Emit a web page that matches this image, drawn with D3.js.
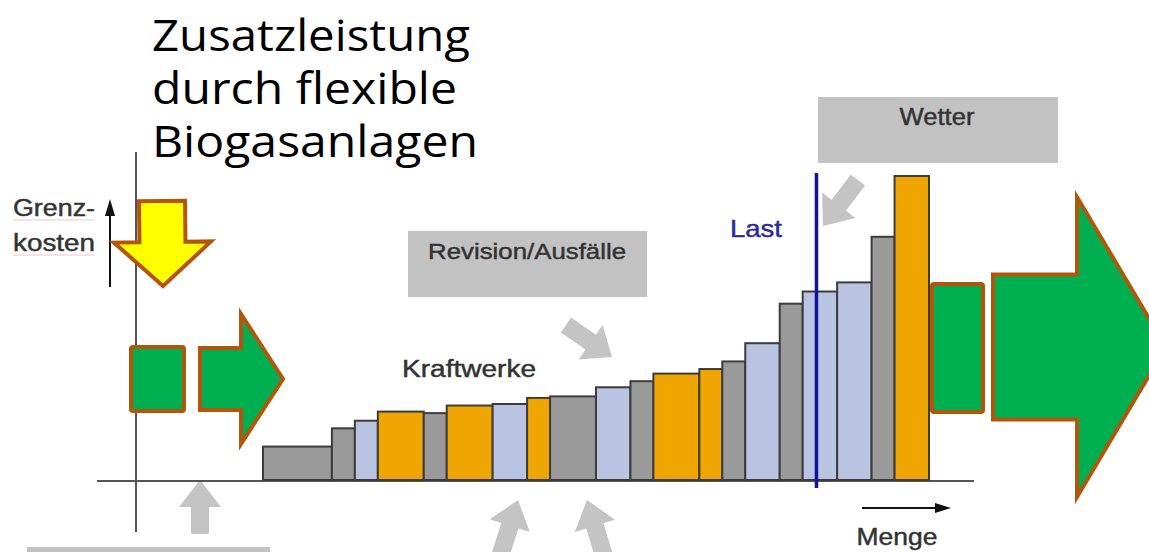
<!DOCTYPE html>
<html lang="de">
<head>
<meta charset="utf-8">
<title>Merit-Order mit flexiblen Biogasanlagen</title>
<script src="https://cdn.jsdelivr.net/npm/d3@7"></script>
<style>
  html, body { margin: 0; padding: 0; background: #fff; }
  svg { display: block; }
</style>
</head>
<body>
<svg id="chart" width="1149" height="552"></svg>
<script>
// Kraftwerkspark in Merit-Order-Reihenfolge: Leistung (Breite) und Grenzkosten (Höhe)
const plantTypes = ["grau", "grau", "blau", "orange", "grau", "orange", "blau", "orange", "grau", "blau",
                    "grau", "orange", "orange", "grau", "blau", "grau", "blau", "blau", "grau", "orange"];
const capacities = [6, 2, 2, 4, 2, 4, 3, 2, 4, 3, 2, 4, 2, 2, 3, 2, 3, 3, 2, 3];
const marginalCosts = [11, 17, 19.5, 22.5, 22, 24.5, 25, 27, 27.5, 30.5, 32.5, 35, 36.5, 39, 45, 58, 62, 65, 80, 100];
const loadLevel = [48.2];
const titleLines = ["Zusatzleistung", "durch flexible", "Biogasanlagen"];
const titleWidths = [318, 305, 326];
const labels = {
  yAxis: ["Grenz-", "kosten"],
  xAxis: "Menge",
  plants: "Kraftwerke",
  load: "Last",
  outages: "Revision/Ausfälle",
  weather: "Wetter"
};

const typeColor = { grau: "#9a9a9a", blau: "#b9c4e3", orange: "#f0a602" };

const svg = d3.select("#chart");

// Skalen: Leistung -> x, Grenzkosten -> y
const x = d3.scaleLinear().domain([0, d3.sum(capacities)]).range([263, 929]);
const y = d3.scaleLinear().domain([0, 100]).range([480, 176]);

// kumulierte Startpunkte der Blöcke
const starts = d3.cumsum([0, ...capacities.slice(0, -1)]);
const plants = capacities.map((c, i) => ({ type: plantTypes[i], x0: starts[i], x1: starts[i] + c, cost: marginalCosts[i] }));

// Pfeil als Polygon von Schaftende (x0,y0) zur Spitze (x1,y1)
function arrowPoints(x0, y0, x1, y1, sw, hw, hl) {
  const dx = x1 - x0, dy = y1 - y0, L = Math.hypot(dx, dy);
  const ux = dx / L, uy = dy / L, px = -uy, py = ux;
  const bx = x1 - ux * hl, by = y1 - uy * hl;
  return [
    [x0 + px * sw, y0 + py * sw], [bx + px * sw, by + py * sw], [bx + px * hw, by + py * hw],
    [x1, y1],
    [bx - px * hw, by - py * hw], [bx - px * sw, by - py * sw], [x0 - px * sw, y0 - py * sw]
  ];
}
const line = d3.line();
function arrow(g, pts, fill, stroke, sw) {
  return g.append("path").attr("d", line(pts) + "Z")
    .attr("fill", fill).attr("stroke", stroke || "none").attr("stroke-width", sw || 0)
    .attr("stroke-linejoin", "miter");
}

// Textfeld mit fester Breite (gestreckte Schrift)
function label(g, txt, xPos, yPos, size, width, color, anchor) {
  const c = color || "#333";
  const t = g.append("text").attr("x", xPos).attr("y", yPos)
    .attr("font-family", "Liberation Sans, Arial, sans-serif").attr("font-size", size)
    .attr("fill", c).attr("stroke", c).attr("stroke-width", 0.45).text(txt);
  if (anchor) t.attr("text-anchor", anchor);
  if (width) t.attr("textLength", width).attr("lengthAdjust", "spacingAndGlyphs");
  return t;
}

const deco = svg.append("g");

// Graue Einflusskästen
deco.append("rect").attr("x", 408).attr("y", 231).attr("width", 239).attr("height", 66).attr("fill", "#c2c2c2");
deco.append("rect").attr("x", 818).attr("y", 97).attr("width", 240).attr("height", 66).attr("fill", "#c2c2c2");
deco.append("rect").attr("x", 27).attr("y", 547).attr("width", 243).attr("height", 10).attr("fill", "#c2c2c2");
label(deco, labels.outages, 527, 259, 22, 198, "#333", "middle");
label(deco, labels.weather, 937, 125, 23, 75, "#333", "middle");

// Graue Einflusspfeile
const grayArrow = "#c4c4c4";
arrow(deco, arrowPoints(566, 325, 612, 357, 9, 21, 26), grayArrow);
arrow(deco, arrowPoints(858, 180, 823, 226, 9, 21, 26), grayArrow);
arrow(deco, arrowPoints(200, 534, 200, 480, 9, 21, 27), grayArrow);
arrow(deco, arrowPoints(497, 566, 518, 500, 9, 21, 27), grayArrow);
arrow(deco, arrowPoints(607, 566, 587, 500, 9, 21, 27), grayArrow);

// Achsen
deco.append("line").attr("x1", 97).attr("x2", 974).attr("y1", y(0) + 1).attr("y2", y(0) + 1)
  .attr("stroke", "#555").attr("stroke-width", 2);
deco.append("line").attr("x1", 136).attr("x2", 136).attr("y1", 152).attr("y2", 532)
  .attr("stroke", "#555").attr("stroke-width", 2);

// Achsenbeschriftungen mit Pfeilen
deco.append("line").attr("x1", 110).attr("x2", 110).attr("y1", 287).attr("y2", 212)
  .attr("stroke", "#111").attr("stroke-width", 2);
deco.append("path").attr("d", line([[105, 216], [110, 199], [115, 216]]) + "Z").attr("fill", "#111");
labels.yAxis.forEach((t, i) => {
  label(deco, t, 13, 216 + i * 35, 23, 82, "#333");
  deco.append("line").attr("x1", 13).attr("x2", 95).attr("y1", 220 + i * 35).attr("y2", 220 + i * 35)
    .attr("stroke", "#f3c4c4").attr("stroke-width", 1);
});
deco.append("line").attr("x1", 862).attr("x2", 938).attr("y1", 508).attr("y2", 508)
  .attr("stroke", "#111").attr("stroke-width", 2);
deco.append("path").attr("d", line([[935, 503], [951, 508], [935, 513]]) + "Z").attr("fill", "#111");
label(deco, labels.xAxis, 897, 545, 23, 81, "#333", "middle");

// Merit-Order-Blöcke
svg.append("g").selectAll("rect").data(plants).join("rect")
  .attr("x", d => x(d.x0))
  .attr("y", d => y(d.cost))
  .attr("width", d => x(d.x1) - x(d.x0))
  .attr("height", d => y(0) - y(d.cost))
  .attr("fill", d => typeColor[d.type])
  .attr("stroke", "#3c3c3c")
  .attr("stroke-width", 2);

label(svg, labels.plants, 469, 377, 23, 134, "#333", "middle");

// Lastlinie
const lastX = x(loadLevel[0]);
svg.append("line").attr("x1", lastX).attr("x2", lastX).attr("y1", 173).attr("y2", 488)
  .attr("stroke", "#1212a0").attr("stroke-width", 3.5);
label(svg, labels.load, 756, 237, 24, 52, "#2828a0", "middle");

// Zusatzleistung flexibler Biogasanlagen
const brown = "#b3560b", green = "#00b050";
const over = svg.append("g");
arrow(over, arrowPoints(162, 201, 163, 286, 23, 48.5, 44), "#ffff00", brown, 4);
over.append("rect").attr("x", 131).attr("y", 347).attr("width", 53).attr("height", 64).attr("rx", 2)
  .attr("fill", green).attr("stroke", brown).attr("stroke-width", 4);
arrow(over, arrowPoints(200, 379, 283, 379, 31, 65, 42), green, brown, 4);
over.append("rect").attr("x", 932).attr("y", 284).attr("width", 51).attr("height", 128).attr("rx", 2)
  .attr("fill", green).attr("stroke", brown).attr("stroke-width", 4);
arrow(over, arrowPoints(993, 347, 1166, 347, 72.5, 150, 89), green, brown, 4);

// Titel
titleLines.forEach((t, i) => {
  svg.append("text")
    .attr("x", 152).attr("y", 51 + i * 53)
    .attr("font-family", "Open Sans, sans-serif").attr("font-size", 43).attr("fill", "#000")
    .attr("textLength", titleWidths[i]).attr("lengthAdjust", "spacingAndGlyphs")
    .text(t);
});
</script>
</body>
</html>
